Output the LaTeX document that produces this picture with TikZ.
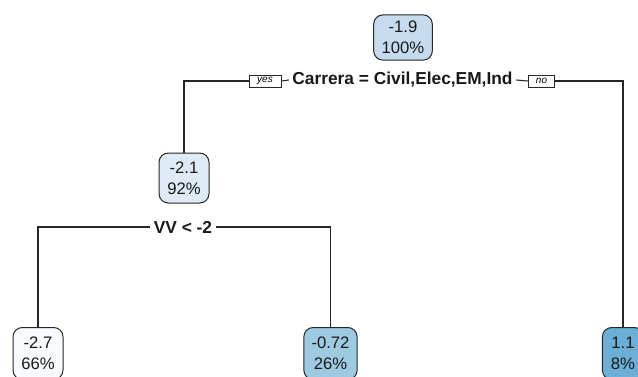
\documentclass[tikz,border=0pt]{standalone}
\usepackage{fontspec}
\setmainfont{Liberation Sans}
\begin{document}
\begin{tikzpicture}[x=0.75pt,y=-0.75pt,
  treenode/.style={draw=black!85, line width=0.75pt, rounded corners=7pt, align=center,
    inner sep=0pt, font=\fontsize{12.5}{15.5}\selectfont, text=black!90},
  splitlabel/.style={font=\bfseries\fontsize{13}{15}\selectfont, inner xsep=2.5pt, inner ysep=1pt, text=black!90},
  yesno/.style={draw=black!85, line width=0.6pt, fill=white, font=\itshape\fontsize{7.5}{8}\selectfont,
    inner sep=0pt, minimum height=9pt},
  edge/.style={draw=black!85, line width=0.8pt}]
\useasboundingbox (0,0) rectangle (638,376);
\definecolor{c0}{HTML}{C6DBEF}
\definecolor{c1}{HTML}{DEEBF7}
\definecolor{c2}{HTML}{F7FBFF}
\definecolor{c3}{HTML}{9ECAE1}
\definecolor{c4}{HTML}{6BAED6}
% nodes
\node[treenode, fill=c0, minimum width=44pt, minimum height=34pt] (root) at (403,37.5) {-1.9\\100\%};
\node[splitlabel] (s1) at (402.5,80) {Carrera = Civil,Elec,EM,Ind};
\node[yesno, minimum width=24pt] (yes) at (265,81) {yes};
\node[yesno, minimum width=20pt] (no) at (541.5,81) {no};
\node[treenode, fill=c1, minimum width=37.5pt, minimum height=37.5pt] (n2) at (184,178) {-2.1\\92\%};
\node[splitlabel] (s2) at (183,227) {VV < -2};
\node[treenode, fill=c2, minimum width=37.5pt, minimum height=39pt, anchor=north] (l1) at (38,327) {-2.7\\66\%};
\node[treenode, fill=c3, minimum width=40pt, minimum height=39pt, anchor=north] (l2) at (330.5,327) {-0.72\\26\%};
\node[treenode, fill=c4, minimum width=31pt, minimum height=39pt, anchor=north] (l3) at (623,327) {1.1\\8\%};
% connectors
\draw[edge] (n2.north) |- (yes.west);
\draw[edge] (yes.east) -- (s1.west);
\draw[edge] (s1.east) -- (no.west);
\draw[edge] (no.east) -| (l3.north);
\draw[edge] (l1.north) |- (s2.west);
\draw[edge] (s2.east) -| (l2.north);
\end{tikzpicture}
\end{document}
